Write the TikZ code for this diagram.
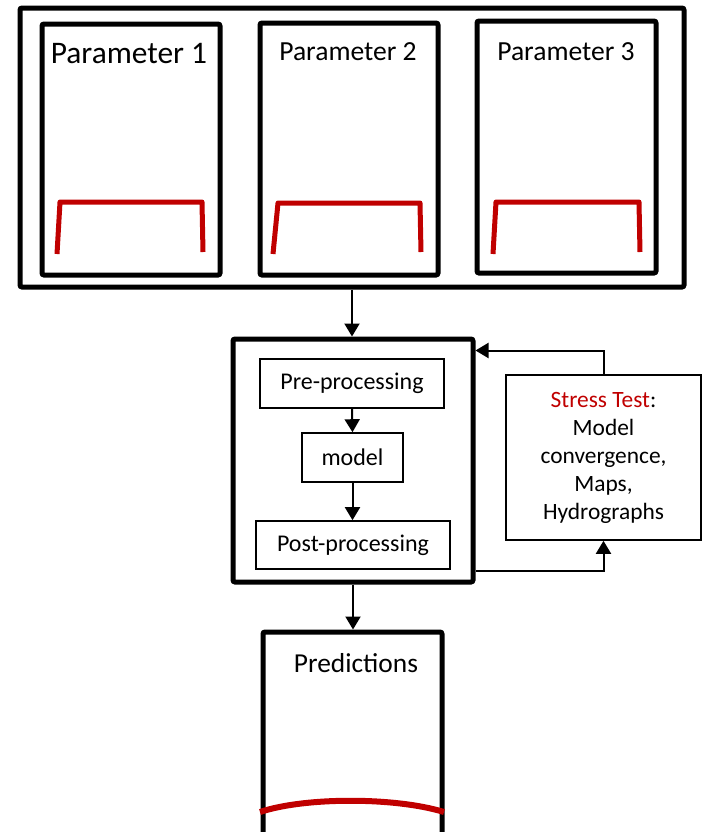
\documentclass[tikz,border=0pt]{standalone}
\usepackage{fontspec}
\setmainfont{Carlito}
\usetikzlibrary{arrows.meta}
\definecolor{darkred}{HTML}{C00000}

\begin{document}
\begin{tikzpicture}[x=0.5pt,y=-0.5pt]
\tikzstyle{thickbox}=[draw, line width=2.5pt, rounded corners=1pt, inner sep=0pt]
\tikzstyle{thinbox}=[draw, line width=0.8pt, inner sep=0pt, font=\fontsize{12}{14}\selectfont]
\tikzstyle{title}=[anchor=base, inner sep=0pt]
\tikzstyle{flow}=[line width=1pt, -{Triangle[length=6.5pt,width=7.5pt]}]
\tikzstyle{curve}=[draw=darkred, line width=2.5pt, line join=round]
\clip (0,0) rectangle (704,832);
% parameter boxes
\node[thickbox, minimum width=332pt, minimum height=139.5pt] (outer) at (352,147.5) {};
\node[thickbox, minimum width=89pt, minimum height=125.5pt] (par1) at (131,149.5) {};
\node[thickbox, minimum width=89pt, minimum height=126pt] (par2) at (349,149) {};
\node[thickbox, minimum width=89.5pt, minimum height=126pt] (par3) at (566.5,147) {};
\node[title, font=\fontsize{15.7}{18}\selectfont] (tit1) at (129,63) {Parameter 1};
\node[title, font=\fontsize{13.8}{16}\selectfont] (tit2) at (348,60) {Parameter 2};
\node[title, font=\fontsize{13.8}{16}\selectfont] (tit3) at (566,60) {Parameter 3};
\draw[curve] (57,254) -- (60,202) -- (202,202) -- (203,252);
\draw[curve] (273,254) -- (278,203) -- (420,203) -- (421,252);
\draw[curve] (493,254) -- (496,202) -- (639,202) -- (640,252);
% model chain
\node[thickbox, minimum width=120pt, minimum height=121.5pt] (core) at (353,460.5) {};
\node[thinbox, minimum width=92pt, minimum height=24.5pt] (pre) at (352,383.5) {Pre-processing};
\node[thinbox, minimum width=50.5pt, minimum height=24.5pt] (model) at (352.5,457.5) {model};
\node[thinbox, minimum width=97pt, minimum height=24pt] (post) at (353,545) {Post-processing};
\node[thinbox, minimum width=97.5pt, minimum height=82.5pt, align=center,
  font=\fontsize{11.7}{14}\selectfont] (stress) at (603.5,457.5)
  {\textcolor{darkred}{Stress Test}:\\Model\\convergence,\\Maps,\\Hydrographs};
% predictions
\node[thickbox, minimum width=89.5pt, minimum height=105pt] (pred) at (352.5,737) {};
\node[title, font=\fontsize{13.7}{16}\selectfont] (tit4) at (356,672) {Predictions};
\draw[curve, line width=3pt] (260,812) .. controls (305,797) and (395,797) .. (444,812);
% arrows
\draw[flow] (outer.south) -- (outer.south |- core.north);
\draw[flow] (pre.south) -- (model.north);
\draw[flow] (model.south) -- (model.south |- post.north);
\draw[flow] (core.south) -- (core.south |- pred.north);
\draw[flow] (stress.north) |- ([yshift=-7pt]core.north east);
\draw[flow] ([yshift=7pt]core.south east) -| (stress.south);
\end{tikzpicture}
\end{document}
